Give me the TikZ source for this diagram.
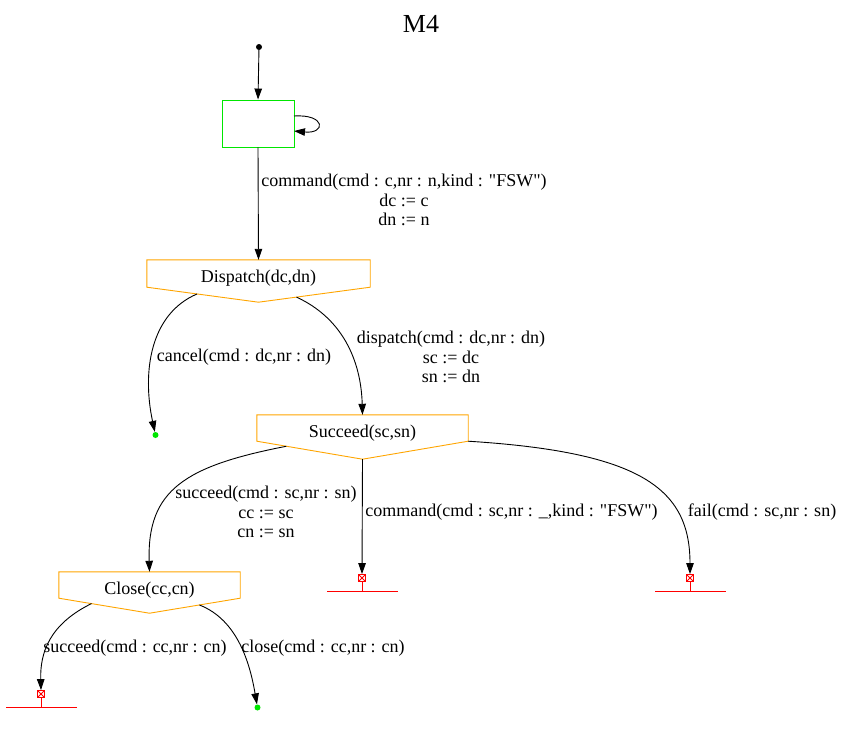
\documentclass[tikz,border=0pt]{standalone}
\usepackage{fontspec}
\setmainfont{Liberation Serif}[Ligatures=TeXOff]
\usetikzlibrary{arrows.meta,calc}
\definecolor{stgreen}{RGB}{0,230,0}
\definecolor{storange}{RGB}{255,165,0}
\definecolor{dotgreen}{RGB}{0,230,0}
\tikzset{
  edge/.style={draw=black, line width=0.9pt, -{Triangle[length=11pt,width=7.5pt]}},
  lbl/.style={align=center, font=\fontsize{18}{19.5}\selectfont, inner sep=0pt},
  stname/.style={font=\fontsize{18}{19.5}\selectfont, inner sep=0pt},
  pent/.style={draw=storange, line width=0.9pt},
  errbox/.style={draw=red, line width=0.8pt, minimum size=7pt, inner sep=0pt,
    path picture={\draw[red, line width=0.8pt] (path picture bounding box.south west) -- (path picture bounding box.north east) (path picture bounding box.north west) -- (path picture bounding box.south east);}},
  errline/.style={draw=red, line width=0.9pt},
  okdot/.style={circle, fill=dotgreen, inner sep=0pt, minimum size=6pt},
}
\begin{document}
\begin{tikzpicture}[x=1pt,y=-1pt]
\useasboundingbox (0,0) rectangle (843,737);
\node[font=\fontsize{26}{30}\selectfont] (title) at (421,24) {M4};

% initial
\node[circle, fill=black, inner sep=0pt, minimum size=6pt] (init) at (259,47) {};
\node[draw=stgreen, line width=0.9pt, minimum width=72pt, minimum height=47pt, inner sep=0pt] (s0) at (258,123.5) {};
\draw[edge] (init) -- (s0.north);
\coordinate (s0a) at (294,116);
\coordinate (s0b) at (294,131);
\draw[edge] (s0a) .. controls (326,114) and (326,134) .. (s0b);

% Dispatch
\node[minimum width=223pt, minimum height=27pt, inner sep=0pt] (disp) at (258.5,273.5) {};
\node[stname] (dispt) at (258.5,278) {Dispatch(dc,dn)};
\coordinate (disptip) at ($(disp.south)+(0,15)$);
\draw[pent] (disp.north west) -- (disp.north east) -- (disp.south east) -- (disptip) -- (disp.south west) -- cycle;
\draw[edge] (s0.south) -- (disp.north);
\node[lbl] (l1) at (404,200) {command(cmd : c,nr : n,kind : "FSW")\\dc := c\\dn := n};

% cancel
\node[okdot] (f1) at (155.5,435) {};
\coordinate (dA) at ($(disp.south west)!0.45!(disptip)$);
\draw[edge] (dA) .. controls (150,314) and (142,372) .. (f1);
\node[lbl] (l2) at (244,357) {cancel(cmd : dc,nr : dn)};

% Succeed
\node[minimum width=211pt, minimum height=26pt, inner sep=0pt] (succ) at (362.5,428) {};
\node[stname] (succt) at (362.5,433) {Succeed(sc,sn)};
\coordinate (succtip) at ($(succ.south)+(0,18)$);
\draw[pent] (succ.north west) -- (succ.north east) -- (succ.south east) -- (succtip) -- (succ.south west) -- cycle;
\coordinate (dB) at ($(disptip)!0.34!(disp.south east)$);
\draw[edge] (dB) .. controls (342,318) and (361,360) .. (succ.north);
\node[lbl] (l3) at (451,357) {dispatch(cmd : dc,nr : dn)\\sc := dc\\sn := dn};

% Close
\node[minimum width=181pt, minimum height=26pt, inner sep=0pt] (close) at (149.5,585) {};
\node[stname] (closet) at (149.5,590) {Close(cc,cn)};
\coordinate (closetip) at ($(close.south)+(0,15)$);
\draw[pent] (close.north west) -- (close.north east) -- (close.south east) -- (closetip) -- (close.south west) -- cycle;
\coordinate (sA) at ($(succ.south west)!0.28!(succtip)$);
\draw[edge] (sA) .. controls (185,466) and (147,490) .. (close.north);
\node[lbl] (l4) at (266,512) {succeed(cmd : sc,nr : sn)\\cc := sc\\cn := sn};

% error finals
\node[errbox] (e1) at (362,578) {};
\draw[errline] (327,591) -- (398,591);
\draw[errline] (e1.south) -- (362,591);
\node[errbox] (e2) at (690,578) {};
\draw[errline] (655,591) -- (726,591);
\draw[errline] (e2.south) -- (690,591);
\node[errbox] (e3) at (41,694) {};
\draw[errline] (6,707) -- (77,707);
\draw[errline] (e3.south) -- (41,707);

\draw[edge] (succtip) -- (e1.north);
\node[lbl] (l5) at (511.5,512) {command(cmd : sc,nr : \_,kind : "FSW")};
\draw[edge] (succ.south east) .. controls (640,452) and (690,488) .. (e2.north);
\node[lbl] (l6) at (762,512) {fail(cmd : sc,nr : sn)};

% from Close
\node[okdot] (f2) at (257.5,707.5) {};
\coordinate (cA) at ($(close.south west)!0.36!(closetip)$);
\draw[edge] (cA) .. controls (50,624) and (40,652) .. (e3.north);
\node[lbl] (l7) at (135,648) {succeed(cmd : cc,nr : cn)};
\coordinate (cB) at ($(closetip)!0.55!(close.south east)$);
\draw[edge] (cB) .. controls (238,620) and (250,664) .. (f2);
\node[lbl] (l8) at (323,648) {close(cmd : cc,nr : cn)};
\end{tikzpicture}
\end{document}
